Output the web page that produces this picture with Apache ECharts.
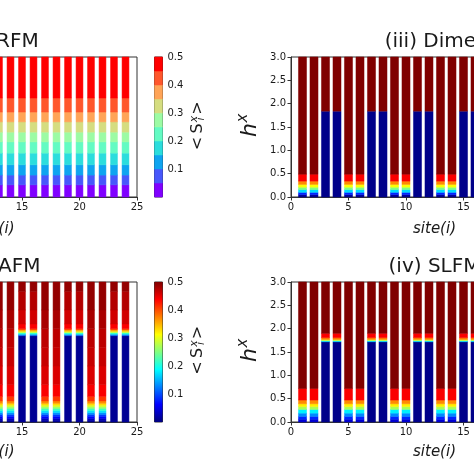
<!DOCTYPE html>
<html>
<head>
<meta charset="utf-8">
<script src="https://cdn.jsdelivr.net/npm/echarts@6/dist/echarts.min.js"></script>
<style>
html,body{margin:0;padding:0;background:#fff;}
#c{width:474px;height:474px;}
</style>
</head>
<body>
<div id="c"></div>
<script>
// ---------------- data ----------------
const sites = [1,2,3,4,5,6,7,8,9,10,11,12,13,14,15,16,17,18,19,20,21,22,23,24];
// 'A' = sites whose <S^x> stays large down to small h, 'B' = sites that stay ~0 up to h ~1.8
const siteType = ['A','A','B','B','A','A','B','B','A','A','B','B','A','A','B','B','A','A','B','B','A','A','B','B'];

const xTicks = [0,5,10,15,20,25];
const hTicks = [0,0.5,1.0,1.5,2.0,2.5,3.0];
const cbTicks = [0.1,0.2,0.3,0.4,0.5];

// (i) RFM : same profile at every site (banded)
const rfmEdges = [0,0.26,0.47,0.69,0.94,1.18,1.39,1.61,1.82,2.12,3.0];
const rfmVals  = [0.025,0.075,0.125,0.175,0.225,0.275,0.325,0.375,0.425,0.475];
const rfmLevels = [0,0.05,0.10,0.15,0.20,0.25,0.30,0.35,0.40,0.45,0.50];
const rfmColors = ['#8000ff','#4757fb','#0ea4f0','#2bdddd','#63fbc3','#9cfba4','#d5dd80','#ffa457','#ff572c','#ff0000'];

// (ii) AFM
const afmEdgesA = [0,0.04,0.08,0.12,0.16,0.20,0.24,0.28,0.32,0.36,0.40,0.45,0.55,0.8,1.2,1.6,2.0,2.4,3.0];
const afmValsA  = [0.01,0.03,0.06,0.09,0.13,0.17,0.21,0.25,0.29,0.33,0.37,0.41,0.44,0.455,0.465,0.47,0.48,0.49];
const afmEdgesB = [0,1.85,1.88,1.91,1.94,1.97,2.0,2.1,2.4,2.8,3.0];
const afmValsB  = [0.01,0.12,0.2,0.28,0.34,0.4,0.44,0.46,0.475,0.49];

// (iii) Dimer
const dimEdgesA = [0,0.05,0.10,0.16,0.21,0.27,0.34,0.49,3.0];
const dimValsA  = [0.01,0.08,0.17,0.25,0.31,0.37,0.44,0.5];
const dimEdgesB = [0,1.84,3.0];
const dimValsB  = [0.005,0.5];

// (iv) SLFM
const slfEdgesA = [0,0.06,0.12,0.19,0.27,0.33,0.39,0.47,0.72,3.0];
const slfValsA  = [0.04,0.08,0.13,0.18,0.27,0.32,0.37,0.44,0.5];
const slfEdgesB = [0,1.72,1.745,1.77,1.81,1.9,3.0];
const slfValsB  = [0.005,0.17,0.3,0.38,0.44,0.5];

const jetColors = ['#000080','#0000ff','#0080ff','#00ffff','#80ff80','#ffff00','#ff8000','#ff0000','#800000'];

// ---------------- build ----------------
function buildCells(profA, profB) {
  const out = [];
  sites.forEach((s, k) => {
    const p = siteType[k] === 'A' ? profA : profB;
    for (let j = 0; j < p[1].length; j++) out.push([s, p[0][j], p[0][j+1], p[1][j]]);
  });
  return out;
}
const rfmCells = buildCells([rfmEdges, rfmVals], [rfmEdges, rfmVals]);
const afmCells = buildCells([afmEdgesA, afmValsA], [afmEdgesB, afmValsB]);
const dimCells = buildCells([dimEdgesA, dimValsA], [dimEdgesB, dimValsB]);
const slfCells = buildCells([slfEdgesA, slfValsA], [slfEdgesB, slfValsB]);
const rfmCbCells = [];
for (let k = 0; k < rfmLevels.length - 1; k++) rfmCbCells.push([0.5, rfmLevels[k], rfmLevels[k+1], (rfmLevels[k]+rfmLevels[k+1])/2]);

function bandRender(w) {
  return function (params, api) {
    const x = api.value(0), h0 = api.value(1), h1 = api.value(2);
    const p0 = api.coord([x - w/2, h1]);
    const p1 = api.coord([x + w/2, h0]);
    const c = api.visual('color');
    return {type:'rect', shape:{x:p0[0], y:p0[1], width:p1[0]-p0[0], height:p1[1]-p0[1]},
            style:{fill:c, stroke:c, lineWidth:0.5}};
  };
}
function cbGradientRender(params, api) {
  const p0 = api.coord([0, 0.5]);
  const p1 = api.coord([1, 0]);
  const stops = jetColors.map((c, i) => ({offset: i/(jetColors.length-1), color: c}));
  return {type:'rect', shape:{x:p0[0], y:p0[1], width:p1[0]-p0[0], height:p1[1]-p0[1]},
          style:{fill: new echarts.graphic.LinearGradient(0, 1, 0, 0, stops)}};
}

const FONT = '"DejaVu Sans", sans-serif';
const TXT = '#1a1a1a';
const AX = '#333';

const grids = [
  {left:-150.5, top:57, width:287.5, height:140},   // 0 RFM
  {left:291, top:57, width:287.5, height:140},      // 1 Dimer
  {left:-150.5, top:282, width:287.5, height:140},  // 2 AFM
  {left:291, top:282, width:287.5, height:140},     // 3 SLFM
  {left:154.5, top:57, width:8, height:140},        // 4 cb top
  {left:154.5, top:282, width:8, height:140}        // 5 cb bottom
].map(g => Object.assign({show:true, borderColor:AX, borderWidth:1, backgroundColor:'#fff', containLabel:false, outerBoundsMode:'none'}, g));

function mainX(i) {
  return {gridIndex:i, type:'value', min:0, max:25, interval:5,
    axisLine:{show:true, lineStyle:{color:AX, width:1}},
    axisTick:{show:true, length:3.5, lineStyle:{color:AX}, customValues:xTicks},
    axisLabel:{color:TXT, fontSize:10, fontFamily:FONT, margin:5, customValues:xTicks},
    splitLine:{show:false}};
}
function mainY(i) {
  return {gridIndex:i, type:'value', min:0, max:3, interval:0.5,
    axisLine:{show:true, lineStyle:{color:AX, width:1}},
    axisTick:{show:true, length:3.5, lineStyle:{color:AX}, customValues:hTicks},
    axisLabel:{color:TXT, fontSize:10, fontFamily:FONT, margin:5, customValues:hTicks, formatter:v => Number(v).toFixed(1)},
    splitLine:{show:false}};
}
function cbX(i) { return {gridIndex:i, type:'value', min:0, max:1, show:false}; }
function cbY(i) {
  return {gridIndex:i, type:'value', min:0, max:0.5, position:'right',
    axisLine:{show:false},
    axisTick:{show:true, length:3.5, lineStyle:{color:AX}, customValues:cbTicks},
    axisLabel:{color:TXT, fontSize:10, fontFamily:FONT, margin:5, customValues:cbTicks, formatter:v => Number(v).toFixed(1)},
    splitLine:{show:false}};
}

function txt(x, y, text, size, opts) {
  return Object.assign({type:'text', x:x, y:y, z:100, style:Object.assign({text:text, font:(opts && opts.italic ? 'italic ' : '') + size + 'px ' + FONT, fill:TXT, align:'center', verticalAlign:'middle'}, opts && opts.style)}, opts && opts.el);
}
function hLabel(x, y) {
  return {type:'group', x:x, y:y, rotation:Math.PI/2, children:[
    txt(-3, 0, 'h', 22, {italic:true}),
    txt(9, -7, 'x', 15, {italic:true})
  ]};
}
function sLabel(x, y) {
  return {type:'group', x:x, y:y, rotation:Math.PI/2, children:[
    txt(-17, 0, '<', 16),
    txt(-2, 0.5, 'S', 16),
    txt(7.5, -3.5, 'x', 11, {italic:true}),
    txt(7.5, 4, 'i', 11, {italic:true}),
    txt(18.5, 0, '>', 16)
  ]};
}

const option = {
  backgroundColor:'#fff',
  animation:false,
  grid: grids,
  xAxis:[mainX(0), mainX(1), mainX(2), mainX(3), cbX(4), cbX(5)],
  yAxis:[mainY(0), mainY(1), mainY(2), mainY(3), cbY(4), cbY(5)],
  visualMap:[
    {type:'piecewise', show:false, seriesIndex:[0,4], dimension:3,
     pieces: rfmColors.map((c, k) => ({gte:rfmLevels[k], lt:rfmLevels[k+1], color:c}))},
    {type:'continuous', show:false, seriesIndex:[1,2,3], dimension:3, min:0, max:0.5,
     inRange:{color:jetColors}}
  ],
  series:[
    {type:'custom', xAxisIndex:0, yAxisIndex:0, data:rfmCells, encode:{x:0, y:[1,2]}, renderItem:bandRender(0.6), silent:true},
    {type:'custom', xAxisIndex:1, yAxisIndex:1, data:dimCells, encode:{x:0, y:[1,2]}, renderItem:bandRender(0.7), silent:true},
    {type:'custom', xAxisIndex:2, yAxisIndex:2, data:afmCells, encode:{x:0, y:[1,2]}, renderItem:bandRender(0.6), silent:true},
    {type:'custom', xAxisIndex:3, yAxisIndex:3, data:slfCells, encode:{x:0, y:[1,2]}, renderItem:bandRender(0.7), silent:true},
    {type:'custom', xAxisIndex:4, yAxisIndex:4, data:rfmCbCells, encode:{x:0, y:[1,2]}, renderItem:bandRender(1.0), silent:true},
    {type:'custom', xAxisIndex:5, yAxisIndex:5, data:[[0.5, 0, 0.5, 0.25]], encode:{x:0, y:[1,2]}, renderItem:cbGradientRender, silent:true}
  ],
  graphic:[
    txt(-4, 42, 'RFM', 20, {style:{align:'left'}}),
    txt(434.5, 42, '(iii) Dimer', 20),
    txt(-2, 267, 'AFM', 20, {style:{align:'left'}}),
    txt(434.5, 267, '(iv) SLFM', 20),
    txt(-7, 229, 'site(i)', 15, {italic:true}),
    txt(434.5, 229, 'site(i)', 15, {italic:true}),
    txt(-7, 452, 'site(i)', 15, {italic:true}),
    txt(434.5, 452, 'site(i)', 15, {italic:true}),
    hLabel(250, 127),
    hLabel(250, 352),
    sLabel(197.5, 126.5),
    sLabel(197.5, 351)
  ]
};

const chart = echarts.init(document.getElementById('c'), null, {renderer:'canvas'});
chart.setOption(option);
</script>
</body>
</html>
